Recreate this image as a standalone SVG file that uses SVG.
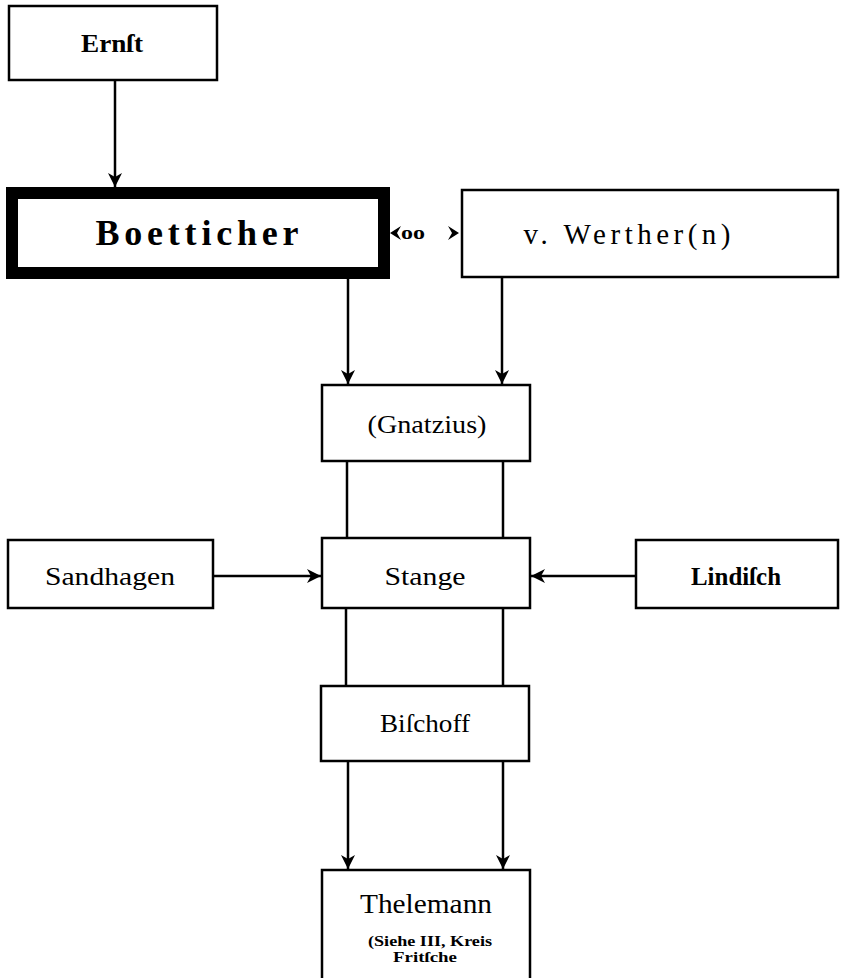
<svg xmlns="http://www.w3.org/2000/svg" width="842" height="980" viewBox="0 0 842 980">
<style>
.box{fill:#fff;stroke:#000;stroke-width:2.5}
.thick{fill:#fff;stroke:#000;stroke-width:12}
.open{fill:none;stroke:#000;stroke-width:2.5}
.ln{stroke:#000;stroke-width:2.5;fill:none}
.t{font-family:"Liberation Serif","DejaVu Serif",serif;font-size:26px;fill:#000;text-anchor:middle}
.b{font-weight:bold}
.s{font-family:"Liberation Serif","DejaVu Serif",serif;font-size:14px;font-weight:bold;fill:#000;text-anchor:middle}
</style>
<defs>
<marker id="ah" markerUnits="userSpaceOnUse" markerWidth="14" markerHeight="14" refX="14" refY="7" orient="auto">
<path d="M0,0 L14,7 L0,14 L4,7 z" fill="#000"/>
</marker>
</defs>
<rect width="842" height="980" fill="#fff"/>
<g id="connectors">
<line class="ln" x1="115" y1="80" x2="115" y2="187" marker-end="url(#ah)"/>
<line class="ln" x1="348" y1="279" x2="348" y2="384" marker-end="url(#ah)"/>
<line class="ln" x1="502" y1="277" x2="502" y2="384" marker-end="url(#ah)"/>
<line class="ln" x1="347" y1="461" x2="347" y2="538"/>
<line class="ln" x1="503" y1="461" x2="503" y2="538"/>
<line class="ln" x1="214" y1="576" x2="321" y2="576" marker-end="url(#ah)"/>
<line class="ln" x1="636" y1="576" x2="531" y2="576" marker-end="url(#ah)"/>
<line class="ln" x1="346" y1="608" x2="346" y2="686"/>
<line class="ln" x1="503" y1="608" x2="503" y2="686"/>
<line class="ln" x1="348" y1="761" x2="348" y2="869" marker-end="url(#ah)"/>
<line class="ln" x1="503" y1="761" x2="503" y2="869" marker-end="url(#ah)"/>
<g id="marriage">
<path d="M390,233 L401,226 L397,233 L401,240 z" fill="#000"/>
<path d="M459,233 L448,226 L452,233 L448,240 z" fill="#000"/>
<text class="t b" x="413" y="239" style="font-size:18px" textLength="24" lengthAdjust="spacingAndGlyphs">oo</text>
</g>
</g>
<g id="ernst">
<rect class="box" x="9" y="6" width="208" height="74"/>
<text class="t b" x="112" y="52" textLength="62" lengthAdjust="spacingAndGlyphs">Ernſt</text>
</g>
<g id="boetticher">
<rect class="thick" x="12" y="193" width="372" height="80"/>
<text class="t b" x="197" y="245" style="font-size:36px" textLength="203" lengthAdjust="spacing">Boetticher</text>
</g>
<g id="werther">
<rect class="box" x="462" y="190" width="376" height="87"/>
<text class="t" x="627" y="244" style="font-size:29px" textLength="207" lengthAdjust="spacing">v. Werther(n)</text>
</g>
<g id="gnatzius">
<rect class="box" x="322" y="385" width="208" height="76"/>
<text class="t" x="427" y="433" textLength="119" lengthAdjust="spacingAndGlyphs">(Gnatzius)</text>
</g>
<g id="sandhagen">
<rect class="box" x="8" y="540" width="205" height="68"/>
<text class="t" x="110" y="585" textLength="130" lengthAdjust="spacingAndGlyphs">Sandhagen</text>
</g>
<g id="stange">
<rect class="box" x="322" y="538" width="208" height="70"/>
<text class="t" x="425" y="585" textLength="81" lengthAdjust="spacingAndGlyphs">Stange</text>
</g>
<g id="lindisch">
<rect class="box" x="636" y="540" width="202" height="68"/>
<text class="t b" x="736" y="585" textLength="90" lengthAdjust="spacingAndGlyphs">Lindiſch</text>
</g>
<g id="bischoff">
<rect class="box" x="321" y="686" width="208" height="75"/>
<text class="t" x="425" y="732" textLength="90" lengthAdjust="spacingAndGlyphs">Biſchoff</text>
</g>
<g id="thelemann">
<path class="open" d="M322,978 L322,870 L530,870 L530,978"/>
<text class="t" x="426" y="913" style="font-size:28px" textLength="132" lengthAdjust="spacingAndGlyphs">Thelemann</text>
<text class="s" x="430" y="946" textLength="124" lengthAdjust="spacingAndGlyphs">(Siehe III, Kreis</text>
<text class="s" x="425" y="962" textLength="64" lengthAdjust="spacingAndGlyphs">Fritſche</text>
</g>
</svg>
